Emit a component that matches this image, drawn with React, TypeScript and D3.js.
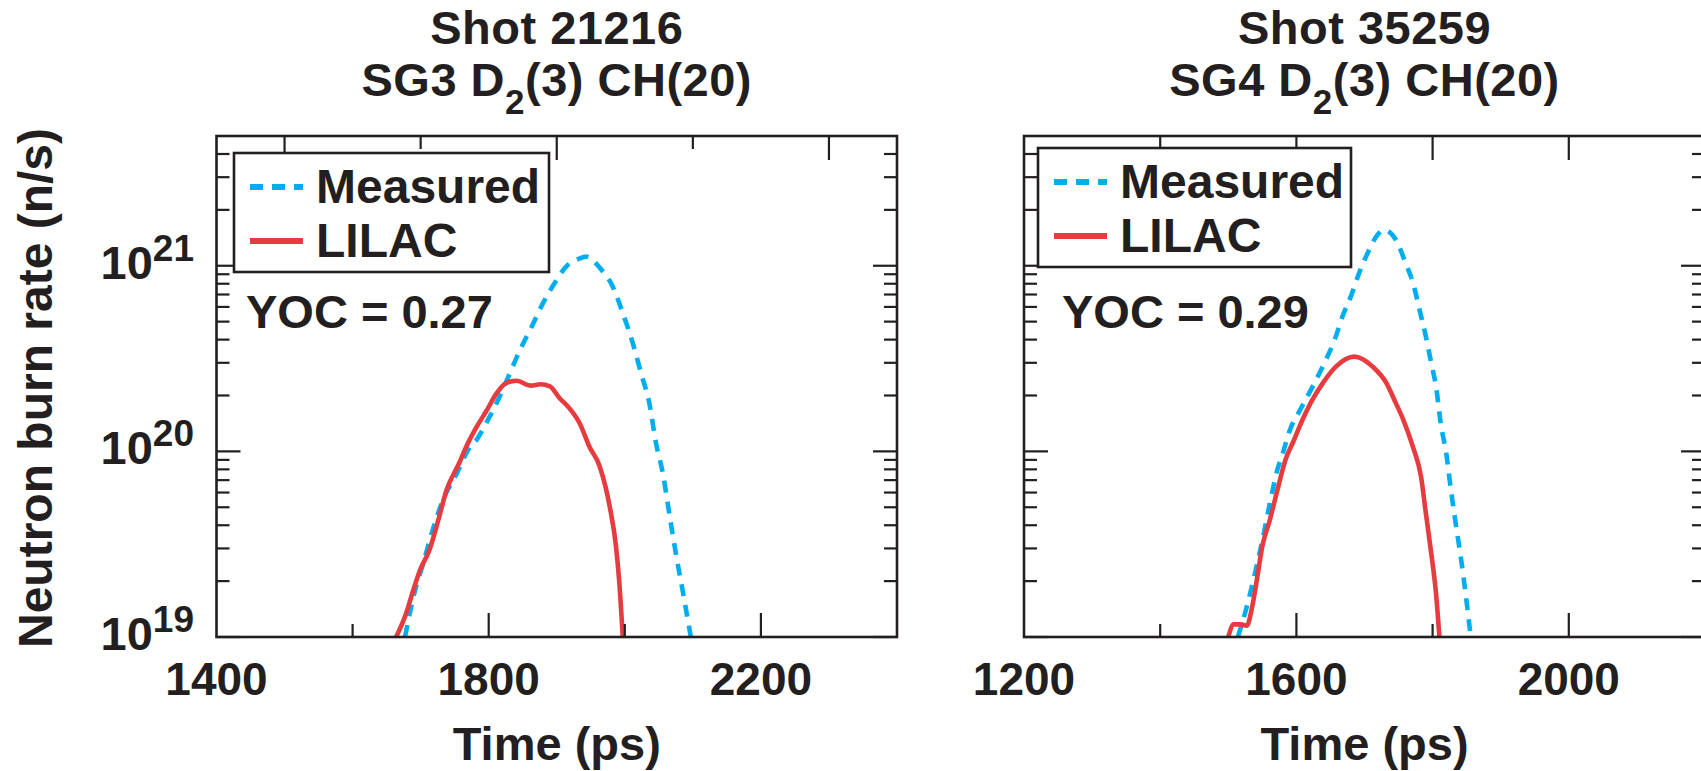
import React from 'react';
import * as d3 from 'd3';

// ---------- DATA ----------
// Left panel: Shot 21216
const LEFT_MEASURED_TIME = [1677, 1691, 1704, 1718, 1733, 1753, 1770, 1782, 1799, 1816, 1831, 1846, 1863, 1880, 1897, 1916, 1930, 1943, 1963, 1982, 1997, 2012, 2024, 2036, 2046, 2056, 2066, 2076, 2085, 2097];
const LEFT_MEASURED_RATE = [1.0e19, 1.74e19, 2.51e19, 3.8e19, 5.5e19, 7.59e19, 1.02e20, 1.15e20, 1.48e20, 1.97e20, 2.63e20, 3.52e20, 4.68e20, 6.31e20, 8.07e20, 1.01e21, 1.08e21, 1.12e21, 9.77e20, 7.76e20, 5.56e20, 3.8e20, 2.63e20, 1.82e20, 1.1e20, 7.59e19, 4.47e19, 2.69e19, 1.78e19, 1.0e19];
const LEFT_LILAC_TIME = [1664, 1679, 1689, 1699, 1713, 1726, 1738, 1757, 1767, 1782, 1797, 1811, 1826, 1841, 1862, 1876, 1890, 1904, 1919, 1934, 1948, 1963, 1978, 1987, 1992, 1997];
const LEFT_LILAC_RATE = [1.0e19, 1.35e19, 1.78e19, 2.29e19, 2.95e19, 4.27e19, 6.17e19, 8.71e19, 1.06e20, 1.35e20, 1.66e20, 2.04e20, 2.34e20, 2.4e20, 2.26e20, 2.3e20, 2.24e20, 1.94e20, 1.7e20, 1.41e20, 1.06e20, 8.32e19, 5.01e19, 3.09e19, 1.95e19, 1.0e19];

// Right panel: Shot 35259
const RIGHT_MEASURED_TIME = [1514, 1527, 1539, 1550, 1561, 1572, 1580, 1591, 1605, 1624, 1641, 1656, 1668, 1680, 1693, 1707, 1718, 1729, 1746, 1761, 1771, 1781, 1790, 1798, 1805, 1812, 1820, 1827, 1834, 1842, 1849, 1856];
const RIGHT_MEASURED_RATE = [1.0e19, 1.45e19, 2.19e19, 3.31e19, 5.25e19, 7.94e19, 9.77e19, 1.32e20, 1.66e20, 2.24e20, 2.99e20, 3.98e20, 5.37e20, 6.84e20, 9.33e20, 1.22e21, 1.45e21, 1.56e21, 1.38e21, 1.02e21, 8.13e20, 5.75e20, 4.17e20, 2.99e20, 2.24e20, 1.41e20, 9.77e19, 6.17e19, 4.07e19, 2.6e19, 1.65e19, 1.0e19];
const RIGHT_LILAC_TIME = [1500, 1508, 1518, 1527, 1535, 1542, 1550, 1561, 1572, 1584, 1595, 1609, 1624, 1639, 1658, 1685, 1712, 1732, 1746, 1757, 1771, 1783, 1790, 1798, 1805, 1810];
const RIGHT_LILAC_RATE = [1.0e19, 1.17e19, 1.17e19, 1.15e19, 1.45e19, 2.04e19, 3.09e19, 4.27e19, 6.17e19, 9.02e19, 1.12e20, 1.48e20, 1.91e20, 2.34e20, 2.86e20, 3.24e20, 2.86e20, 2.34e20, 1.82e20, 1.48e20, 1.06e20, 7.31e19, 4.68e19, 2.82e19, 1.72e19, 1.0e19];

const TITLES_LINE1 = ['Shot 21216', 'Shot 35259'];
const TITLES_SG = ['SG3', 'SG4'];
const YOC_LABELS = ['YOC = 0.27', 'YOC = 0.29'];
const LEGEND_LABELS = ['Measured', 'LILAC'];

const LEFT_X_DOMAIN = [1400, 2400];
const RIGHT_X_DOMAIN = [1200, 2200];
const LEFT_X_LABELS = [1400, 1800, 2200];
const RIGHT_X_LABELS = [1200, 1600, 2000];
const LEFT_BOTTOM_MINOR = [1600, 2000];
const LEFT_BOTTOM_MAJOR = [1800, 2200];
const LEFT_TOP_MAJOR = [1500, 1900, 2300];
const LEFT_TOP_MINOR = [1700, 2100];
const RIGHT_BOTTOM_MINOR = [1400, 1800];
const RIGHT_BOTTOM_MAJOR = [1600, 2000];
const RIGHT_TOP_MAJOR = [1400, 1600, 1800, 2000];
const RIGHT_TOP_MINOR: number[] = [];
const Y_DOMAIN = [1e19, 5e21];
const Y_DECADES = [19, 20, 21];

// ---------- STYLE / LAYOUT ----------
const W = 1701;
const H = 771;
const TOP = 136;
const BOTTOM = 637;
const INK = '#231F20';
const BLUE = '#00AEEF';
const RED = '#E63B3F';
const FONT = '"Liberation Sans", Arial, Helvetica, sans-serif';
const MAJOR = 24;
const MINOR = 13;

const y = d3.scaleLog().domain(Y_DOMAIN).range([BOTTOM, TOP]);

type PanelProps = {
  idx: number;
  x0: number;
  x1: number;
  xDomain: number[];
  xLabels: number[];
  bottomMajor: number[];
  bottomMinor: number[];
  topMajor: number[];
  topMinor: number[];
  measT: number[];
  measV: number[];
  lilT: number[];
  lilV: number[];
  showYLabels: boolean;
  legend: { x: number; y: number; w: number; h: number };
  yocX: number;
};

function Panel(p: PanelProps) {
  const x = d3.scaleLinear().domain(p.xDomain).range([p.x0, p.x1]);
  const line = d3
    .line<[number, number]>()
    .x((d) => x(d[0]))
    .y((d) => y(d[1]))
    .curve(d3.curveMonotoneX);
  const meas = p.measT.map((t, i) => [t, p.measV[i]] as [number, number]);
  const lil = p.lilT.map((t, i) => [t, p.lilV[i]] as [number, number]);
  const clipId = `clip${p.idx}`;
  const cx = (p.x0 + p.x1) / 2;

  const yMajor = Y_DECADES.map((d) => Math.pow(10, d));
  const yMinor: number[] = [];
  Y_DECADES.forEach((d) => {
    for (let k = 2; k <= 9; k++) {
      const v = k * Math.pow(10, d);
      if (v < Y_DOMAIN[1]) yMinor.push(v);
    }
  });

  const tick = (x1: number, y1: number, x2: number, y2: number, key: string) => (
    <line key={key} x1={x1} y1={y1} x2={x2} y2={y2} stroke={INK} strokeWidth={2.2} />
  );

  const lg = p.legend;
  return (
    <g>
      <defs>
        <clipPath id={clipId}>
          <rect x={p.x0} y={TOP} width={p.x1 - p.x0} height={BOTTOM - TOP} />
        </clipPath>
      </defs>
      {/* titles */}
      <text x={cx} y={44} textAnchor="middle" fontSize={47} letterSpacing={0.5} fontWeight="bold" fill={INK} fontFamily={FONT}>
        {TITLES_LINE1[p.idx]}
      </text>
      <text x={cx} y={96} textAnchor="middle" fontSize={47} letterSpacing={0.5} fontWeight="bold" fill={INK} fontFamily={FONT}>
        {TITLES_SG[p.idx]} D
        <tspan fontSize={35} dy={18}>2</tspan>
        <tspan dy={-18}>(3) CH(20)</tspan>
      </text>

      {/* curves */}
      <g clipPath={`url(#${clipId})`}>
        <path d={line(meas) || ''} fill="none" stroke={BLUE} strokeWidth={4.6} strokeDasharray="12 9" />
        <path d={line(lil) || ''} fill="none" stroke={RED} strokeWidth={4.6} strokeLinejoin="round" />
      </g>

      {/* y ticks */}
      {yMajor.map((v, i) => (
        <g key={`ym${i}`}>
          {tick(p.x0, y(v), p.x0 + MAJOR, y(v), 'a')}
          {tick(p.x1, y(v), p.x1 - MAJOR, y(v), 'b')}
        </g>
      ))}
      {yMinor.map((v, i) => (
        <g key={`yn${i}`}>
          {tick(p.x0, y(v), p.x0 + MINOR, y(v), 'a')}
          {tick(p.x1, y(v), p.x1 - MINOR, y(v), 'b')}
        </g>
      ))}
      {/* x ticks */}
      {p.bottomMajor.map((t) => tick(x(t), BOTTOM, x(t), BOTTOM - MAJOR, `bM${t}`))}
      {p.bottomMinor.map((t) => tick(x(t), BOTTOM, x(t), BOTTOM - MINOR, `bm${t}`))}
      {p.topMajor.map((t) => tick(x(t), TOP, x(t), TOP + MAJOR, `tM${t}`))}
      {p.topMinor.map((t) => tick(x(t), TOP, x(t), TOP + MINOR, `tm${t}`))}

      {/* frame */}
      <rect x={p.x0} y={TOP} width={p.x1 - p.x0} height={BOTTOM - TOP} fill="none" stroke={INK} strokeWidth={2.6} />

      {/* legend */}
      <rect x={lg.x} y={lg.y} width={lg.w} height={lg.h} fill="#fff" stroke={INK} strokeWidth={2.6} />
      <line x1={lg.x + 16} x2={lg.x + 69} y1={lg.y + 34} y2={lg.y + 34} stroke={BLUE} strokeWidth={6} strokeDasharray="13 9" />
      <text x={lg.x + 82} y={lg.y + 50} fontSize={48} fontWeight="bold" fill={INK} fontFamily={FONT}>
        {LEGEND_LABELS[0]}
      </text>
      <line x1={lg.x + 16} x2={lg.x + 69} y1={lg.y + 88} y2={lg.y + 88} stroke={RED} strokeWidth={6} />
      <text x={lg.x + 82} y={lg.y + 104} fontSize={48} fontWeight="bold" fill={INK} fontFamily={FONT}>
        {LEGEND_LABELS[1]}
      </text>

      {/* YOC */}
      <text x={p.yocX} y={328} fontSize={47} fontWeight="bold" fill={INK} fontFamily={FONT}>
        {YOC_LABELS[p.idx]}
      </text>

      {/* x labels */}
      {p.xLabels.map((t) => (
        <text key={`xl${t}`} x={x(t)} y={695} textAnchor="middle" fontSize={46} fontWeight="bold" fill={INK} fontFamily={FONT}>
          {t}
        </text>
      ))}
      <text x={cx} y={760} textAnchor="middle" fontSize={47} fontWeight="bold" fill={INK} fontFamily={FONT}>
        Time (ps)
      </text>

      {/* y labels */}
      {p.showYLabels &&
        Y_DECADES.map((d) => (
          <text key={`yl${d}`} x={194} y={y(Math.pow(10, d)) + 13} textAnchor="end" fontSize={47} fontWeight="bold" fill={INK} fontFamily={FONT}>
            10
            <tspan fontSize={37} dy={-18}>{d}</tspan>
          </text>
        ))}
    </g>
  );
}

export default function App() {
  return (
    <svg width={W} height={H} style={{ position: 'absolute', left: 0, top: 0, background: '#fff' }}>
      <rect x={0} y={0} width={W} height={H} fill="#fff" />
      <Panel
        idx={0}
        x0={216.5}
        x1={897}
        xDomain={LEFT_X_DOMAIN}
        xLabels={LEFT_X_LABELS}
        bottomMajor={LEFT_BOTTOM_MAJOR}
        bottomMinor={LEFT_BOTTOM_MINOR}
        topMajor={LEFT_TOP_MAJOR}
        topMinor={LEFT_TOP_MINOR}
        measT={LEFT_MEASURED_TIME}
        measV={LEFT_MEASURED_RATE}
        lilT={LEFT_LILAC_TIME}
        lilV={LEFT_LILAC_RATE}
        showYLabels={true}
        legend={{ x: 234, y: 153, w: 315, h: 119 }}
        yocX={246}
      />
      <Panel
        idx={1}
        x0={1024}
        x1={1705}
        xDomain={RIGHT_X_DOMAIN}
        xLabels={RIGHT_X_LABELS}
        bottomMajor={RIGHT_BOTTOM_MAJOR}
        bottomMinor={RIGHT_BOTTOM_MINOR}
        topMajor={RIGHT_TOP_MAJOR}
        topMinor={RIGHT_TOP_MINOR}
        measT={RIGHT_MEASURED_TIME}
        measV={RIGHT_MEASURED_RATE}
        lilT={RIGHT_LILAC_TIME}
        lilV={RIGHT_LILAC_RATE}
        showYLabels={false}
        legend={{ x: 1038, y: 148, w: 313, h: 119 }}
        yocX={1062}
      />
      <text
        transform="translate(52,388) rotate(-90)"
        textAnchor="middle"
        fontSize={48}
        fontWeight="bold"
        fill={INK}
        fontFamily={FONT}
      >
        Neutron burn rate (n/s)
      </text>
    </svg>
  );
}
